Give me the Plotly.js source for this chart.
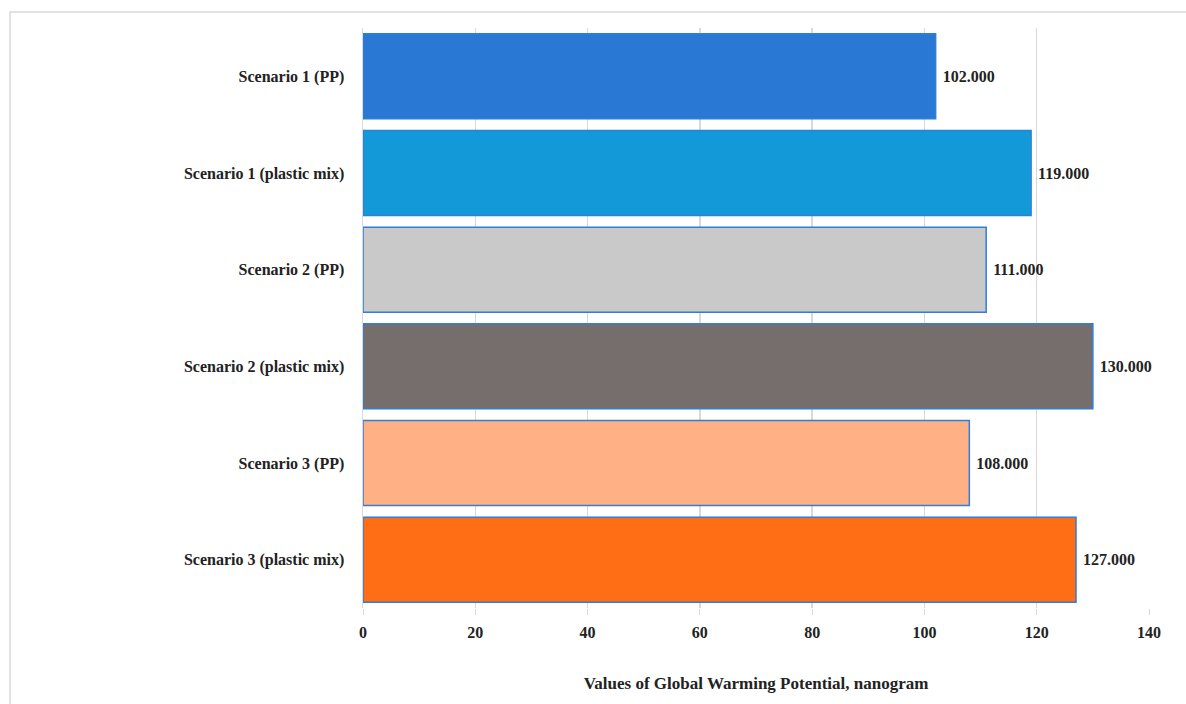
<!DOCTYPE html>
<html>
<head>
<meta charset="utf-8">
<script src="https://cdn.plot.ly/plotly-3.0.1.min.js"></script>
<style>
html,body{margin:0;padding:0;background:#fff;}
#chart{width:1186px;height:704px;}
</style>
</head>
<body>
<div id="chart"></div>
<script>
var categories = ["Scenario 1 (PP)", "Scenario 1 (plastic mix)", "Scenario 2 (PP)", "Scenario 2 (plastic mix)", "Scenario 3 (PP)", "Scenario 3 (plastic mix)"];
var values = [102, 119, 111, 130, 108, 127];
var valueLabels = ["102.000", "119.000", "111.000", "130.000", "108.000", "127.000"];
var barColors = ["#2878d4", "#1399d8", "#c9c9c9", "#766d6d", "#ffb084", "#ff6d14"];
var xTicks = [0, 20, 40, 60, 80, 100, 120, 140];

var font = "'Liberation Serif', 'DejaVu Serif', serif";

var trace = {
  type: "bar",
  orientation: "h",
  y: categories,
  x: values,
  text: valueLabels.map(function (s) { return "\u00a0<b>" + s + "</b>"; }),
  textposition: "outside",
  cliponaxis: false,
  textfont: {family: font, size: 16, color: "#222"},
  marker: {color: barColors, line: {color: "#2e7fd6", width: 1.5}},
  hoverinfo: "x+y"
};

var layout = {
  width: 1186,
  height: 704,
  margin: {l: 363, r: 37, t: 28, b: 96},
  paper_bgcolor: "#fff",
  plot_bgcolor: "#fff",
  bargap: 0.12,
  showlegend: false,
  font: {family: font, color: "#222"},
  xaxis: {
    range: [0, 140],
    tickvals: xTicks,
    ticktext: xTicks.map(String),
    showgrid: true,
    gridcolor: "#d9d9d9",
    gridwidth: 1.5,
    zeroline: false,
    showline: false,
    ticks: "outside",
    ticklen: 6,
    tickcolor: "#d9d9d9",
    ticklabelstandoff: 4,
    tickfont: {family: font, size: 16, color: "#222", weight: "bold"},
    title: {text: "<b>Values of Global Warming Potential, nanogram</b>", font: {family: font, size: 17, color: "#222"}, standoff: 36}
  },
  yaxis: {
    autorange: "reversed",
    showgrid: false,
    zeroline: false,
    showline: true,
    linecolor: "#d9d9d9",
    linewidth: 1.5,
    ticks: "",
    ticklabelstandoff: 14,
    tickfont: {family: font, size: 16, color: "#222", weight: "bold"}
  },
  shapes: [
    {type: "path", xref: "paper", yref: "paper",
     path: "M -0.4491,-0.17 L -0.4491,1.0276 L 1.05,1.0276",
     line: {color: "#d9d9d9", width: 1.5}}
  ]
};

Plotly.newPlot("chart", [trace], layout, {displayModeBar: false, staticPlot: true});
</script>
</body>
</html>
